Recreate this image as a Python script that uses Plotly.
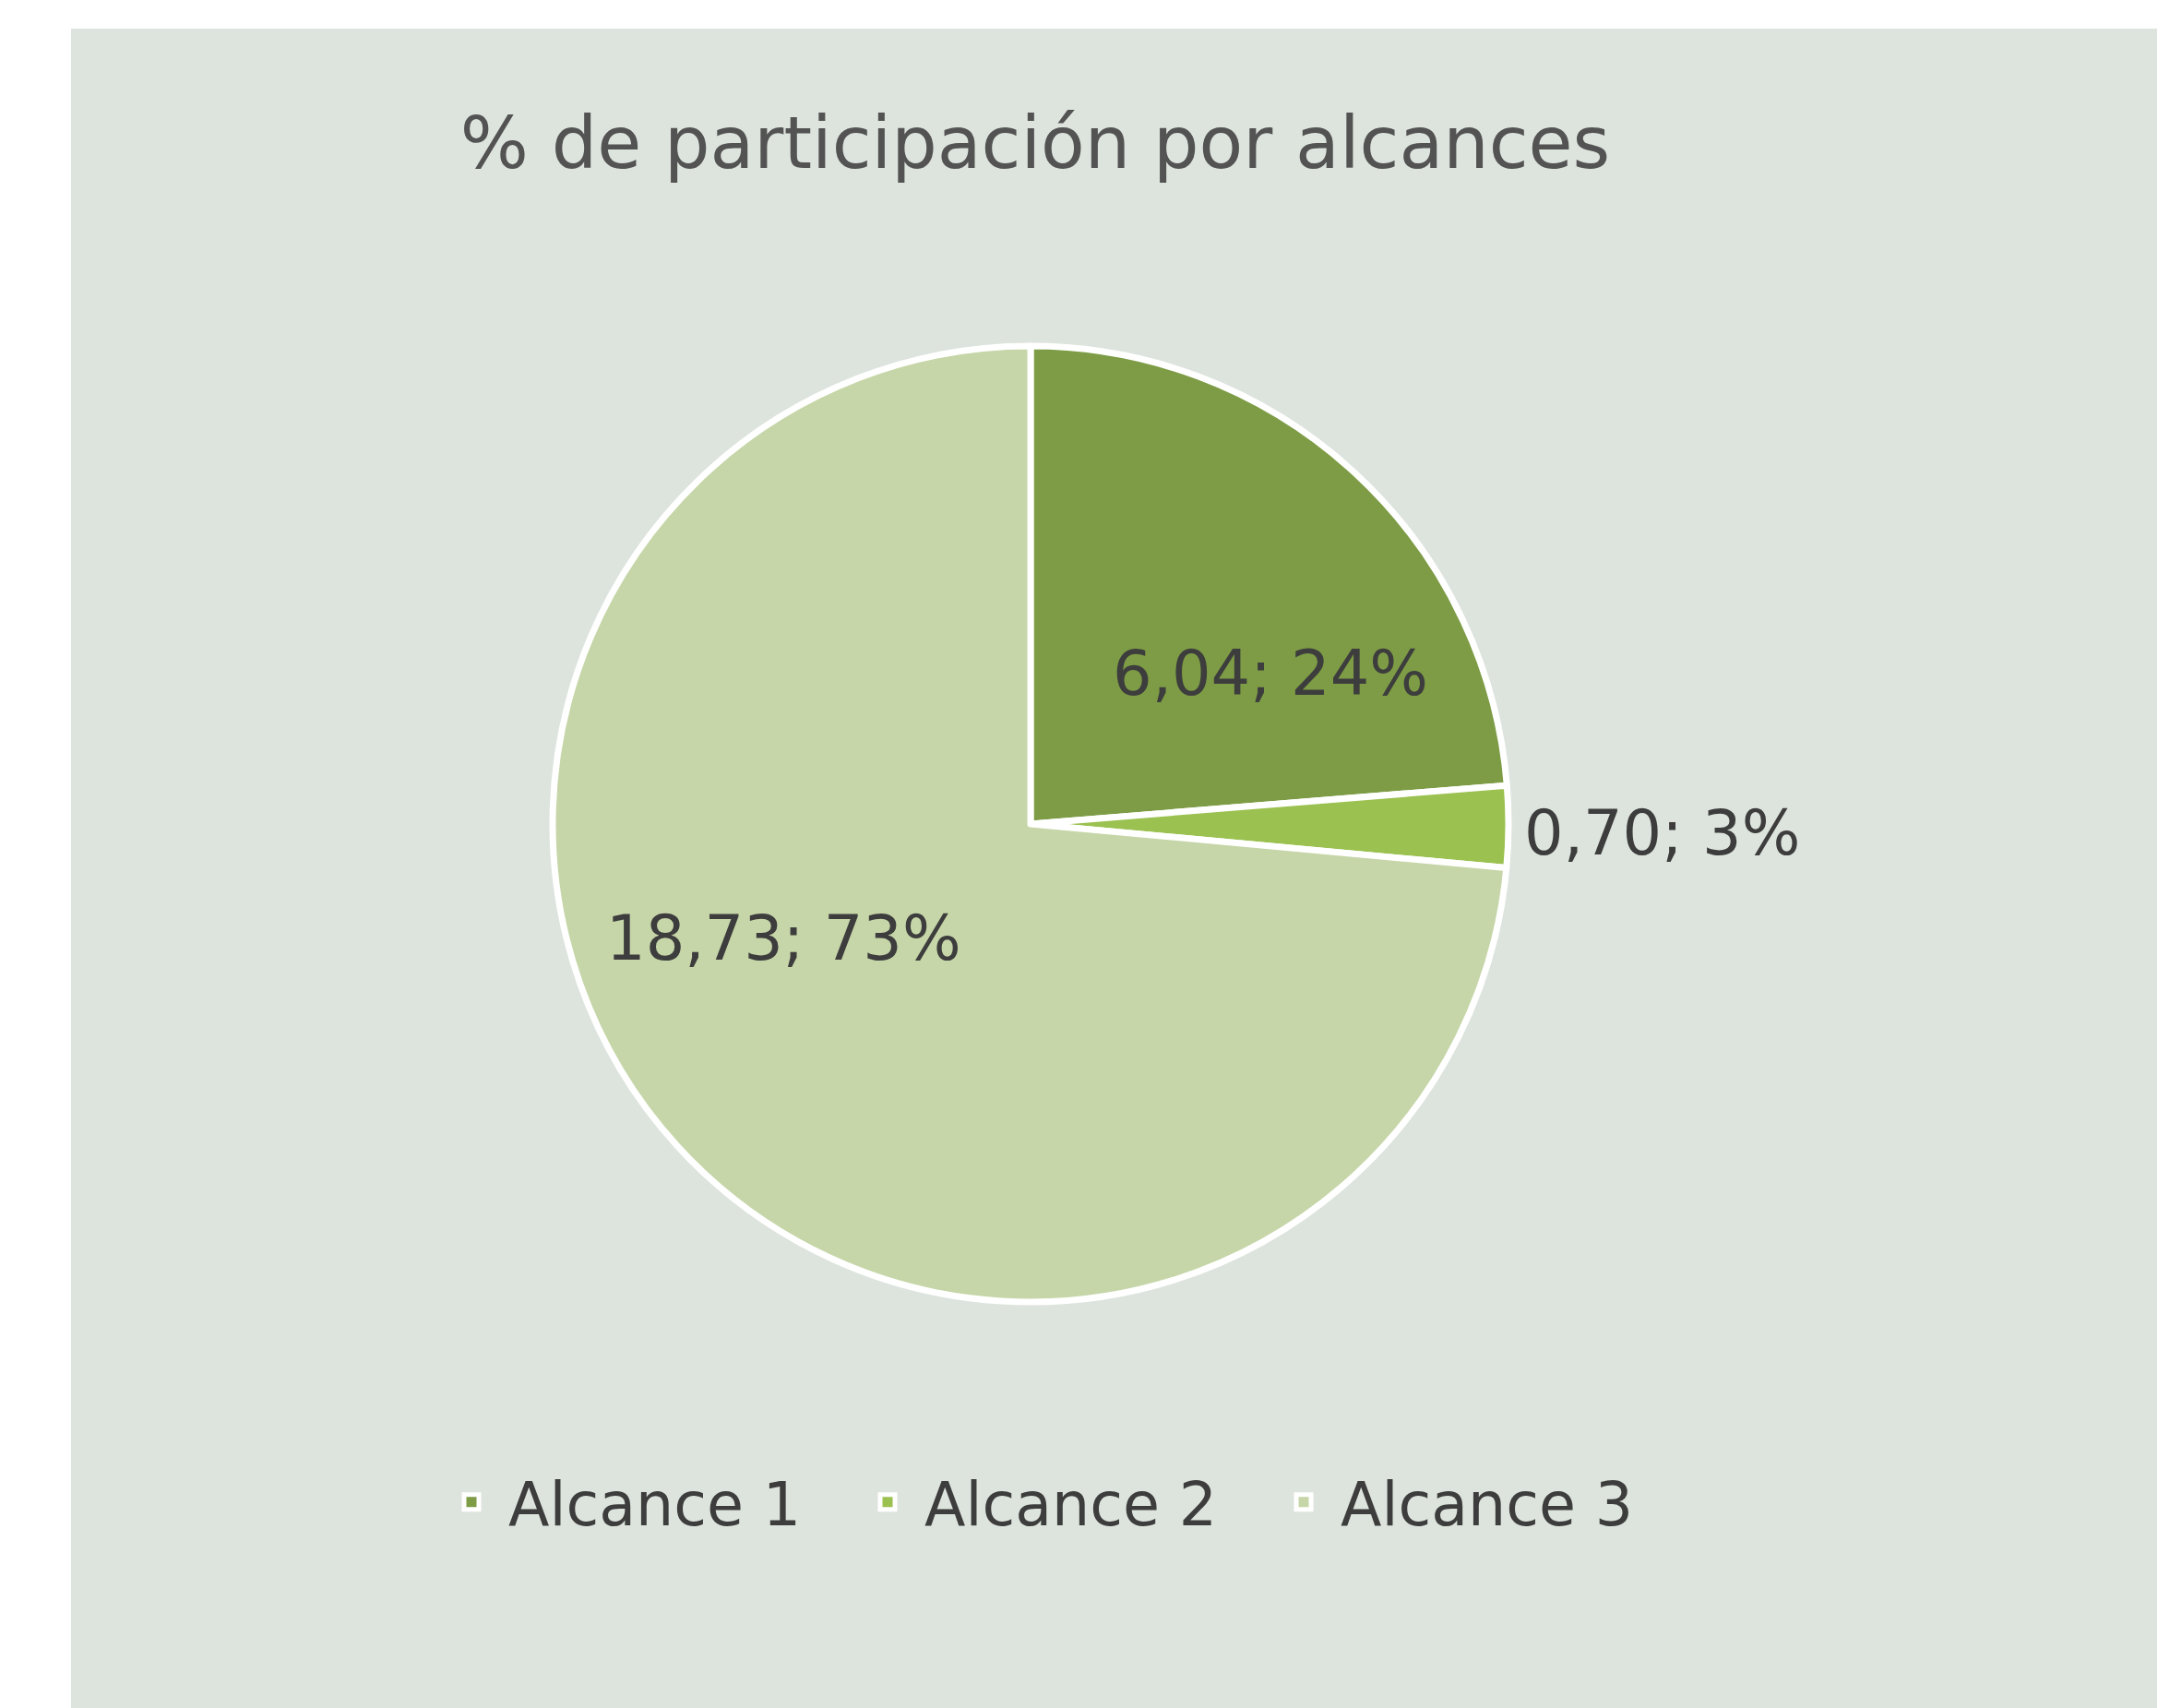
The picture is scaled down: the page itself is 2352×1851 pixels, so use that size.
import plotly.graph_objects as go

categories = ["Alcance 1", "Alcance 2", "Alcance 3"]
values = [6.04, 0.70, 18.73]
pct_labels = ["24%", "3%", "73%"]
colors = ["#7d9c45", "#9bc150", "#c6d6a8"]

W, H = 2352, 1851
OFF = 8  # default page body margin


def fx(p):
    return (p - OFF) / W


def fy(p):
    return 1 - (p - OFF) / H


cx, cy, r = 1117, 893, 518

fig = go.Figure()
fig.add_trace(go.Pie(
    labels=categories,
    values=values,
    sort=False,
    direction="clockwise",
    rotation=0,
    marker=dict(colors=colors, line=dict(color="white", width=7)),
    textinfo="none",
    hoverinfo="label+value+percent",
    showlegend=False,
    domain=dict(x=[fx(cx - r), fx(cx + r)], y=[fy(cy + r), fy(cy - r)]),
))

# legend entries (same categories / colours as the pie slices)
for cat, col in zip(categories, colors):
    fig.add_trace(go.Scatter(
        x=[None], y=[None], mode="markers", name=cat,
        marker=dict(symbol="square", size=16, color=col, line=dict(color="white", width=5)),
        hoverinfo="skip", showlegend=True,
    ))

label_texts = [f"{v:.2f}".replace(".", ",") + "; " + p for v, p in zip(values, pct_labels)]
label_pos = [
    dict(x=fx(1377), y=fy(730), xanchor="center"),
    dict(x=fx(1650), y=fy(903), xanchor="left"),
    dict(x=fx(849), y=fy(1017), xanchor="center"),
]
annotations = []
for t, pos in zip(label_texts, label_pos):
    annotations.append(dict(
        text=t, xref="paper", yref="paper", x=pos["x"], y=pos["y"],
        xanchor=pos["xanchor"], yanchor="middle", showarrow=False,
        font=dict(family="DejaVu Sans", size=67, color="#3d3d3d"),
    ))

fig.update_layout(
    width=W, height=H,
    margin=dict(l=0, r=0, t=0, b=0),
    paper_bgcolor="white",
    plot_bgcolor="rgba(0,0,0,0)",
    xaxis=dict(visible=False),
    yaxis=dict(visible=False),
    title=dict(
        text="% de participación por alcances",
        x=fx(1122), y=fy(155), xanchor="center", yanchor="middle",
        xref="paper", yref="paper",
        font=dict(family="DejaVu Sans", size=78, color="#535353"),
    ),
    shapes=[dict(
        type="rect", xref="paper", yref="paper",
        x0=fx(77), x1=fx(2338), y0=-0.01, y1=fy(31),
        fillcolor="#dde4dd", line=dict(width=0), layer="below",
    )],
    annotations=annotations,
    showlegend=True,
    legend=dict(
        orientation="h",
        x=fx(513 - 42), y=fy(1628), xanchor="left", yanchor="middle",
        font=dict(family="DejaVu Sans", size=65, color="#3d3d3d"),
        bgcolor="rgba(0,0,0,0)",
        itemsizing="trace",
        itemwidth=70,
        entrywidth=366, entrywidthmode="pixels",
        itemclick=False, itemdoubleclick=False,
    ),
)

fig.write_html("out.html")
